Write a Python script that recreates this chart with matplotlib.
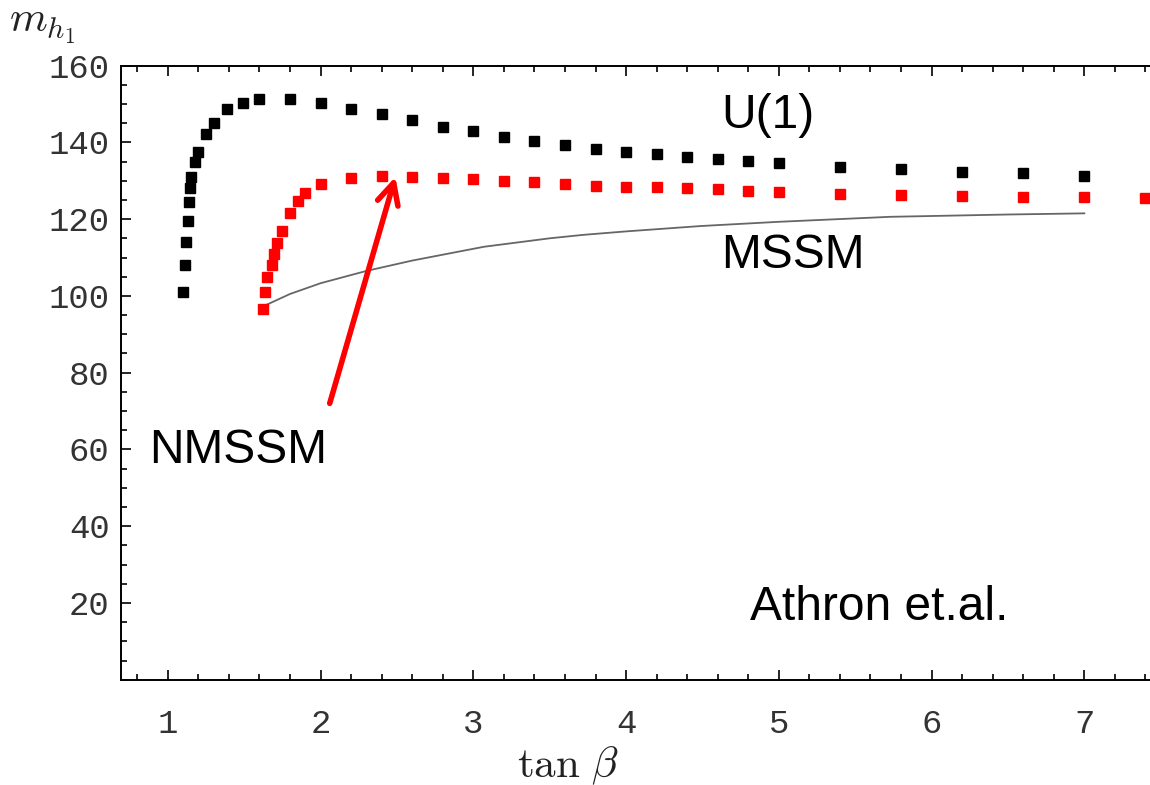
import matplotlib
matplotlib.use("Agg")
import matplotlib.pyplot as plt
from matplotlib.ticker import MultipleLocator

plt.rcParams['mathtext.fontset'] = 'cm'

# U(1) extended model (black points)
u1_tanb = [1.10, 1.11, 1.12, 1.13, 1.14, 1.145, 1.155, 1.18, 1.195, 1.25,
           1.30, 1.39, 1.49, 1.60, 1.80, 2.0, 2.2, 2.4, 2.6, 2.8,
           3.0, 3.2, 3.4, 3.6, 3.8, 4.0, 4.2, 4.4, 4.6, 4.8,
           5.0, 5.4, 5.8, 6.2, 6.6, 7.0]
u1_mh = [100.9, 108, 114, 119.6, 124.4, 128, 131, 134.8, 137.6, 142.2,
         145, 148.6, 150.2, 151.2, 151.2, 150.2, 148.7, 147.3, 145.8, 144.1,
         143, 141.5, 140.4, 139.3, 138.3, 137.6, 136.9, 136.1, 135.6, 135.1,
         134.5, 133.7, 133.1, 132.4, 132.0, 131.3]

# NMSSM (red points)
nmssm_tanb = [1.62, 1.636, 1.647, 1.68, 1.695, 1.717, 1.746, 1.80, 1.85, 1.90,
              2.0, 2.2, 2.4, 2.6, 2.8, 3.0, 3.2, 3.4, 3.6, 3.8,
              4.0, 4.2, 4.4, 4.6, 4.8, 5.0, 5.4, 5.8, 6.2, 6.6,
              7.0, 7.4]
nmssm_mh = [96.7, 100.9, 105, 108, 111, 113.7, 117, 121.5, 124.8, 126.9,
            129.1, 130.6, 131.1, 131, 130.6, 130.4, 130, 129.6, 129.1, 128.7,
            128.4, 128.3, 128, 127.8, 127.4, 127, 126.6, 126.3, 126.1, 125.8,
            125.7, 125.4]

# MSSM (grey curve)
mssm_tanb = [1.62, 1.8, 2.0, 2.3, 2.6, 3.07, 3.5, 3.72, 4.0, 4.49, 5.0, 5.73, 6.5, 7.0]
mssm_mh = [97.2, 100.5, 103.3, 106.5, 109.2, 112.8, 115.0, 115.9, 116.8, 118.2,
           119.3, 120.6, 121.2, 121.5]

fig = plt.figure(figsize=(11.5, 7.85), dpi=100)
ax = fig.add_axes([0.105, 0.134, 0.895, 0.7825])

ax.plot(mssm_tanb, mssm_mh, color="#666666", lw=1.3)
ax.plot(u1_tanb, u1_mh, ls="none", marker="s", ms=6.8, color="black")
ax.plot(nmssm_tanb, nmssm_mh, ls="none", marker="s", ms=6.8, color="#ff0000")

ax.set_xlim(0.692, 7.43)
ax.set_ylim(0, 160)

# ticks
ax.xaxis.set_major_locator(MultipleLocator(1))
ax.xaxis.set_minor_locator(MultipleLocator(0.2))
ax.set_yticks(range(20, 161, 20))
ax.yaxis.set_minor_locator(MultipleLocator(5))
ax.tick_params(which="both", direction="in", top=True, right=False,
               width=1.2, color="black")
ax.tick_params(which="major", length=7)
ax.tick_params(which="minor", length=4.5)
ax.tick_params(axis="x", which="major", pad=21)
ax.tick_params(axis="y", which="major", pad=8)
for lab in ax.get_xticklabels() + ax.get_yticklabels():
    lab.set_fontfamily("Liberation Mono")
    lab.set_fontsize(24.5)
    lab.set_color("#333333")

for s in ["left", "bottom", "top"]:
    ax.spines[s].set_linewidth(1.4)
ax.spines["right"].set_visible(False)

# annotations
txt = dict(fontsize=34.5, family="Liberation Sans", color="black",
           ha="left", va="baseline")
ax.text(4.62, 143.8, "U(1)", **txt)
ax.text(4.62, 107.3, "MSSM", **txt)
ax.text(0.875, 56.4, "NMSSM", **txt)
ax.text(4.81, 15.5, "Athron et.al.", **txt)

ax.annotate("", xy=(2.49, 131), xytext=(2.06, 72),
            arrowprops=dict(arrowstyle="->", color="#ff0000", lw=4,
                            mutation_scale=38, shrinkA=0, shrinkB=0))

# axis labels
fig.text(0.008, 0.96, r"$m_{h_1}$", fontsize=31, color="#222222", va="baseline")
fig.text(0.494, 0.010, r"$\tan\,\beta$", fontsize=31, color="#222222",
         ha="center", va="baseline")

plt.savefig("out.png", dpi=100)
